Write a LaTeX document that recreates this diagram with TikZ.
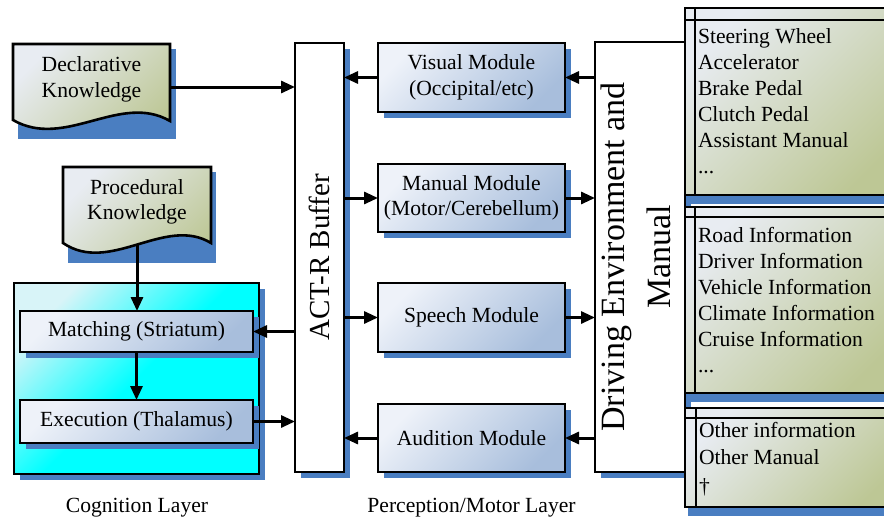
\documentclass[tikz,border=0pt]{standalone}
\usepackage{fontspec}
\setmainfont{Liberation Serif}
\usetikzlibrary{arrows.meta,shadows}
\definecolor{shd}{HTML}{4A7EC1}
\definecolor{modA}{HTML}{EEF2F9}
\definecolor{modB}{HTML}{A8BEDC}
\definecolor{docA}{HTML}{E8ECF2}
\definecolor{docB}{HTML}{BDC795}
\definecolor{cogA}{HTML}{D8F4F8}
\definecolor{cogB}{HTML}{00FFFF}
\tikzset{
  txt/.style={font=\fontsize{21.6}{25.5}\selectfont, inner sep=0pt, outer sep=0pt},
  bshadow/.style={drop shadow={shadow xshift=6pt, shadow yshift=-6pt, fill=shd, opacity=1}},
  modbox/.style={txt, draw, line width=2.6pt, top color=modA, bottom color=modB, shading angle=45, minimum width=187pt, align=center, bshadow},
  brainbox/.style={modbox, minimum width=233pt, minimum height=41pt},
  whitebox/.style={draw, fill=white, line width=2.6pt, inner sep=0pt, outer sep=0pt, bshadow},
  docshape/.style={draw, line width=2.6pt, top color=docA, bottom color=docB, shading angle=45},
  panelbox/.style={draw, line width=2.4pt, top color=docA, bottom color=docB, shading angle=45, inner sep=0pt, outer sep=0pt, minimum width=220pt,
     drop shadow={shadow xshift=3pt, shadow yshift=-9pt, fill=shd, opacity=1}},
  panline/.style={line width=2.4pt},
  paneltxt/.style={txt, anchor=base west},
  arr/.style={line width=3pt, -{Triangle[length=14pt,width=12pt]}},
  lbl/.style={txt, anchor=base},
}
\begin{document}
\begin{tikzpicture}[x=1pt,y=-1pt]
\useasboundingbox (0,0) rectangle (884,517);
\clip (0,0) rectangle (884,517);

% Declarative knowledge
\fill[shd] (18,49) rectangle (176,139);
\path[docshape] (13,44) -- (170,44) -- (170,121) .. controls (120,92) and (65,150) .. (13,120) -- cycle;
\node[txt, align=center, minimum width=157pt] (decl) at (91.5,79.5) {Declarative\\Knowledge};

% Procedural knowledge
\fill[shd] (68,172) rectangle (216,263);
\path[docshape] (63,167) -- (211,167) -- (211,243) .. controls (165,215) and (110,275) .. (63,243) -- cycle;
\node[txt, align=center, minimum width=148pt, minimum height=86pt] (proc) at (137,202) {Procedural\\Knowledge};

% Cognition box
\node[draw, line width=2.6pt, top color=cogA, bottom color=cogB, middle color=cogB, shading angle=45, bshadow,
      minimum width=245pt, minimum height=191pt, inner sep=0pt, outer sep=0pt] (cog) at (136.5,378.5) {};
\node[brainbox, text depth=5pt] (match) at (136.5,331.5) {Matching (Striatum)};
\node[brainbox, minimum height=43pt, text depth=5pt] (exec) at (136.5,421.5) {Execution (Thalamus)};

% ACT-R buffer
\node[whitebox, minimum width=49pt, minimum height=429pt] (buf) at (319.5,257.5) {};
\node[txt, font=\fontsize{29}{34}\selectfont, rotate=90] (buftxt) at (buf.center) {ACT-R Buffer};

% Modules
\node[modbox, minimum height=69pt] (vis) at (471.5,77.5) {Visual Module\\(Occipital/etc)};
\node[modbox, minimum height=68pt] (man) at (471.5,198) {Manual Module\\(Motor/Cerebellum)};
\node[modbox, minimum height=69pt] (sp) at (471.5,317.5) {Speech Module};
\node[modbox, minimum height=68pt] (aud) at (471.5,438) {Audition Module};

% Driving environment
\node[whitebox, minimum width=90pt, minimum height=430pt] (env) at (640,257) {};
\node[txt, font=\fontsize{34}{46}\selectfont, rotate=90, align=center] (envtxt) at ([xshift=-4pt]env.center) {Driving Environment and\\Manual};

% Panels
\node[panelbox, minimum height=187pt] (pan1) at (795,101.5) {};
\draw[panline] ([yshift=-12pt]pan1.north west) -- ([yshift=-12pt]pan1.north east);
\draw[panline] ([xshift=10pt]pan1.north west) -- ([xshift=10pt]pan1.south west);
\node[panelbox, minimum height=186pt] (pan2) at (795,300) {};
\draw[panline] ([yshift=-10pt]pan2.north west) -- ([yshift=-10pt]pan2.north east);
\draw[panline] ([xshift=10pt]pan2.north west) -- ([xshift=10pt]pan2.south west);
\node[panelbox, minimum height=99pt] (pan3) at (795,457.5) {};
\draw[panline] ([yshift=-10pt]pan3.north west) -- ([yshift=-10pt]pan3.north east);
\draw[panline] ([xshift=11pt]pan3.north west) -- ([xshift=11pt]pan3.south west);

\node[paneltxt] (pa1) at (698,43) {Steering Wheel};
\node[paneltxt] (pa2) at (698,69) {Accelerator};
\node[paneltxt] (pa3) at (698,95) {Brake Pedal};
\node[paneltxt] (pa4) at (698,121) {Clutch Pedal};
\node[paneltxt] (pa5) at (698,147) {Assistant Manual};
\node[paneltxt] (pa6) at (698,173) {...};
\node[paneltxt] (pb1) at (698,242) {Road Information};
\node[paneltxt] (pb2) at (698,268) {Driver Information};
\node[paneltxt] (pb3) at (698,294) {Vehicle Information};
\node[paneltxt] (pb4) at (698,320) {Climate Information};
\node[paneltxt] (pb5) at (698,346) {Cruise Information};
\node[paneltxt] (pb6) at (698,372) {...};
\node[paneltxt] (pc1) at (699,437) {Other information};
\node[paneltxt] (pc2) at (699,464) {Other Manual};
\node[paneltxt] (pc3) at (699,493) {†};

% Layer labels
\node[lbl] (cogl) at (137,512) {Cognition Layer};
\node[lbl] (perl) at (471.5,512) {Perception/Motor Layer};

% Connectors
\coordinate (d1) at ([yshift=-7.5pt]decl.east);
\draw[arr] (d1) -- (d1 -| buf.west);
\draw[arr] (proc.south) -- (proc.south |- match.north);
\draw[arr] (match.south) -- (match.south |- exec.north);
\draw[arr] (match.east -| buf.west) -- (match.east);
\draw[arr] (exec.east) -- (exec.east -| buf.west);
\draw[arr] (vis.west) -- (vis.west -| buf.east);
\draw[arr] (man.west -| buf.east) -- (man.west);
\draw[arr] (sp.west -| buf.east) -- (sp.west);
\draw[arr] (aud.west) -- (aud.west -| buf.east);
\draw[arr] (vis.east -| env.west) -- (vis.east);
\draw[arr] (man.east) -- (man.east -| env.west);
\draw[arr] (sp.east) -- (sp.east -| env.west);
\draw[arr] (aud.east -| env.west) -- (aud.east);
\end{tikzpicture}
\end{document}
